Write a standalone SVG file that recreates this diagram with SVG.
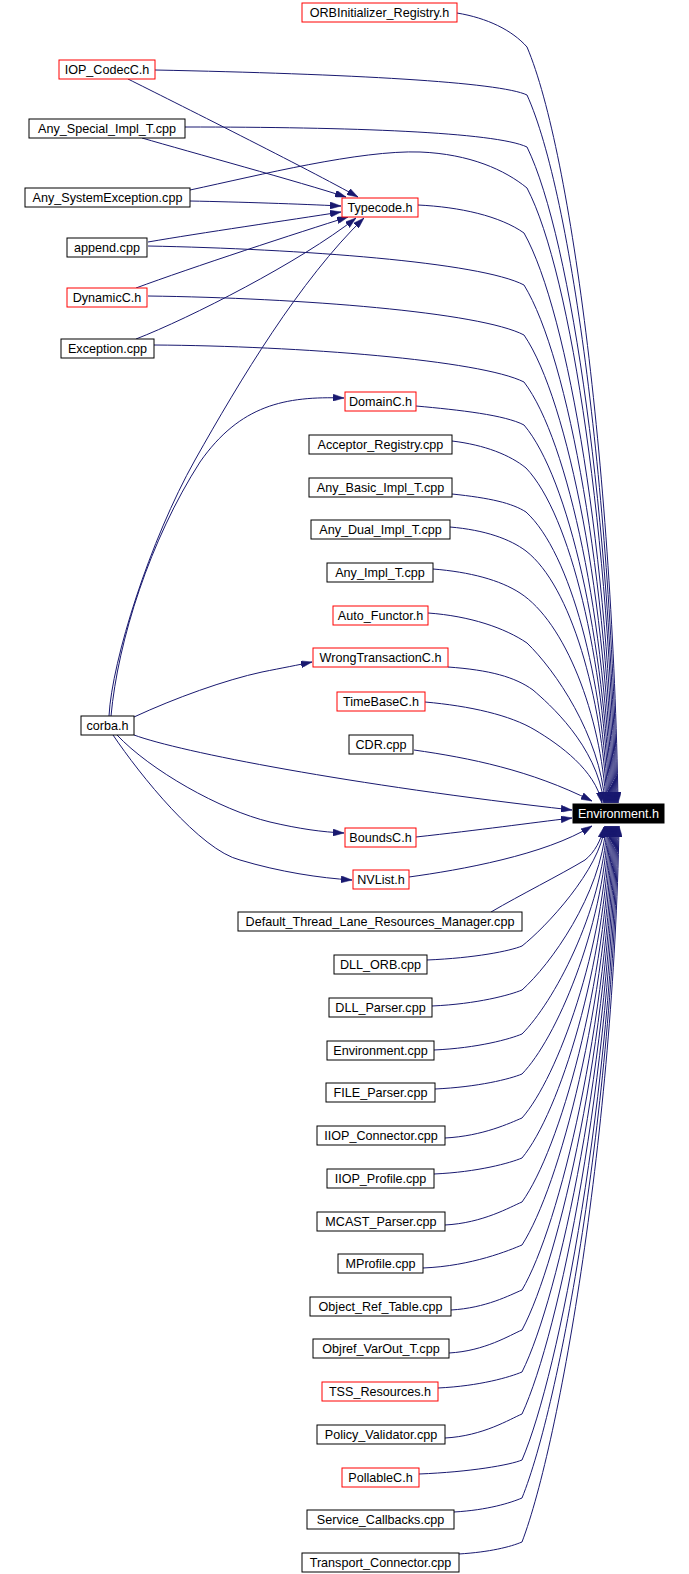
<svg xmlns="http://www.w3.org/2000/svg" width="689" height="1574" viewBox="0 0 689 1574">
<style>
.n rect{fill:#fff;stroke:#000;stroke-width:1}
.n.r rect{stroke:#f00}
.n.k rect{fill:#000;stroke:#000}
.n text{font-family:"Liberation Sans",Arial,sans-serif;font-size:12.6px;text-anchor:middle;fill:#000}
.n.k text{fill:#fff}
.e path{fill:none;stroke:#191970;stroke-width:1;marker-end:url(#ah)}
</style>
<defs>
<marker id="ah" markerWidth="11" markerHeight="7" refX="11" refY="3.5" orient="auto" markerUnits="userSpaceOnUse">
<path d="M0,0 L11,3.5 L0,7 z" fill="#191970" stroke="#191970" stroke-width="0.5"/>
</marker>
</defs>
<rect width="689" height="1574" fill="#fff"/>
<g id="edges" class="e">
<path d="M128,79 C170,100 310,170 358,197"/>
<path d="M142,138 C190,152 300,182 346,197"/>
<path d="M190,201 C240,202 300,204 341,206"/>
<path d="M148,242 C200,233 290,220 341,212"/>
<path d="M136,288 C190,268 300,232 348,217"/>
<path d="M136,339 C190,318 300,262 356,218"/>
<path d="M109,716 C112,660 150,540 195,460 C240,380 300,280 364,218"/>
<path d="M111,716 C118,640 150,540 200,462 C240,405 285,396 344,398"/>
<path d="M134,717 C175,698 225,680 262,672 C282,668 298,665 312,662"/>
<path d="M134,735 C180,752 350,785 572,810"/>
<path d="M117,735 C150,770 220,810 270,822 C300,829 322,832 344,833"/>
<path d="M113,735 C140,775 200,850 240,860 C280,872 320,878 352,880"/>
<path d="M416,837 C480,830 530,823 572,818"/>
<path d="M457,13 C487,18 512,30 527,47 C572,153 613,485 618,803"/>
<path d="M155,70 C350,74 500,82 527,95 C572,194 612,506 617,803"/>
<path d="M185,127 C350,127 495,132 527,147 C572,239 611,527 616,803"/>
<path d="M190,190 C260,175 360,150 420,152 C470,154 505,170 527,188 C572,274 610,545 615,803"/>
<path d="M418,205 C460,207 500,216 524,233 C569,313 609,564 614,803"/>
<path d="M148,246 C300,249 480,262 524,285 C569,358 608,585 613,803"/>
<path d="M148,296 C300,298 480,312 524,335 C569,401 607,606 612,803"/>
<path d="M154,345 C300,346 480,360 524,382 C569,441 606,626 611,803"/>
<path d="M416,406 C460,410 505,415 524,425 C569,478 605,644 610,803"/>
<path d="M452,441 C485,445 510,455 526,468 C571,515 604,662 609,803"/>
<path d="M452,494 C490,498 512,503 526,512 C571,553 603,681 608,803"/>
<path d="M450,527 C485,530 510,539 526,551 C571,586 602,697 607,803"/>
<path d="M433,569 C470,572 500,580 520,593 C565,622 601,715 606,803"/>
<path d="M428,613 C470,616 505,628 527,643 C555,670 600,735 605,803"/>
<path d="M448,667 C490,670 515,677 533,690 C548,703 597,745 604,803"/>
<path d="M425,702 C470,706 510,715 535,730 C560,745 595,770 602,803"/>
<path d="M414,750 C470,758 530,770 592,801"/>
<path d="M409,877 C460,870 545,855 592,826"/>
<path d="M491,912 C520,895 560,875 585,860 C595,852 601,840 604,827"/>
<path d="M427,960 C475,958 510,951 522,946 C545,928 600,870 605,826"/>
<path d="M432,1006 C477,1004 510,995 522,990 C550,965 601,895 606,826"/>
<path d="M434,1050 C478,1048 510,1039 522,1034 C553,1003 602,913 607,826"/>
<path d="M435,1089 C478,1087 510,1079 522,1074 C556,1039 603,930 608,826"/>
<path d="M445,1138 C483,1136 510,1123 522,1118 C558,1077 604,949 609,826"/>
<path d="M434,1174 C478,1172 510,1163 522,1158 C560,1112 605,965 610,826"/>
<path d="M445,1225 C483,1223 510,1207 522,1202 C560,1149 606,984 611,826"/>
<path d="M423,1268 C472,1266 510,1250 522,1245 C560,1186 607,1002 612,826"/>
<path d="M451,1310 C486,1308 510,1295 522,1290 C560,1225 608,1021 613,826"/>
<path d="M449,1353 C485,1351 510,1335 522,1330 C560,1259 609,1038 614,826"/>
<path d="M438,1388 C480,1386 510,1377 522,1372 C560,1296 610,1055 615,826"/>
<path d="M445,1438 C483,1436 510,1419 522,1414 C560,1332 611,1073 616,826"/>
<path d="M419,1474 C470,1472 510,1465 522,1460 C560,1371 612,1092 617,826"/>
<path d="M454,1512 C488,1510 510,1503 522,1498 C560,1404 613,1108 618,826"/>
<path d="M459,1554 C490,1552 510,1547 522,1542 C560,1442 614,1127 619,826"/>
</g>
<g id="n_orb" class="n r"><rect x="302" y="3" width="155" height="19"/><text x="379.5" y="17">ORBInitializer_Registry.h</text></g>
<g id="n_iop" class="n r"><rect x="59" y="60" width="96" height="19"/><text x="107" y="74">IOP_CodecC.h</text></g>
<g id="n_anyspecial" class="n"><rect x="29" y="119" width="156" height="19"/><text x="107" y="133">Any_Special_Impl_T.cpp</text></g>
<g id="n_anysysexc" class="n"><rect x="25" y="188" width="165" height="19"/><text x="107.5" y="202">Any_SystemException.cpp</text></g>
<g id="n_typecode" class="n r"><rect x="342" y="198" width="76" height="19"/><text x="380" y="212">Typecode.h</text></g>
<g id="n_append" class="n"><rect x="67" y="238" width="80" height="19"/><text x="107" y="252">append.cpp</text></g>
<g id="n_dynamicc" class="n r"><rect x="67" y="288" width="80" height="19"/><text x="107" y="302">DynamicC.h</text></g>
<g id="n_exception" class="n"><rect x="61" y="339" width="93" height="19"/><text x="107.5" y="353">Exception.cpp</text></g>
<g id="n_domainc" class="n r"><rect x="345" y="392" width="71" height="19"/><text x="380.5" y="406">DomainC.h</text></g>
<g id="n_acceptor" class="n"><rect x="309" y="435" width="143" height="19"/><text x="380.5" y="449">Acceptor_Registry.cpp</text></g>
<g id="n_anybasic" class="n"><rect x="309" y="478" width="143" height="19"/><text x="380.5" y="492">Any_Basic_Impl_T.cpp</text></g>
<g id="n_anydual" class="n"><rect x="311" y="520" width="139" height="19"/><text x="380.5" y="534">Any_Dual_Impl_T.cpp</text></g>
<g id="n_anyimpl" class="n"><rect x="327" y="563" width="106" height="19"/><text x="380" y="577">Any_Impl_T.cpp</text></g>
<g id="n_autofunctor" class="n r"><rect x="333" y="606" width="95" height="19"/><text x="380.5" y="620">Auto_Functor.h</text></g>
<g id="n_wrongtrans" class="n r"><rect x="313" y="648" width="135" height="19"/><text x="380.5" y="662">WrongTransactionC.h</text></g>
<g id="n_timebase" class="n r"><rect x="337" y="692" width="88" height="19"/><text x="381" y="706">TimeBaseC.h</text></g>
<g id="n_corba" class="n"><rect x="81" y="716" width="53" height="19"/><text x="107.5" y="730">corba.h</text></g>
<g id="n_cdr" class="n"><rect x="349" y="735" width="64" height="19"/><text x="381" y="749">CDR.cpp</text></g>
<g id="n_envh" class="n k"><rect x="573" y="804" width="91" height="19"/><text x="618.5" y="818">Environment.h</text></g>
<g id="n_boundsc" class="n r"><rect x="345" y="828" width="71" height="19"/><text x="380.5" y="842">BoundsC.h</text></g>
<g id="n_nvlist" class="n r"><rect x="353" y="870" width="56" height="19"/><text x="381" y="884">NVList.h</text></g>
<g id="n_default" class="n"><rect x="238" y="912" width="284" height="19"/><text x="380" y="926">Default_Thread_Lane_Resources_Manager.cpp</text></g>
<g id="n_dllorb" class="n"><rect x="334" y="955" width="93" height="19"/><text x="380.5" y="969">DLL_ORB.cpp</text></g>
<g id="n_dllparser" class="n"><rect x="329" y="998" width="103" height="19"/><text x="380.5" y="1012">DLL_Parser.cpp</text></g>
<g id="n_envcpp" class="n"><rect x="327" y="1041" width="107" height="19"/><text x="380.5" y="1055">Environment.cpp</text></g>
<g id="n_file" class="n"><rect x="326" y="1083" width="109" height="19"/><text x="380.5" y="1097">FILE_Parser.cpp</text></g>
<g id="n_iiopconn" class="n"><rect x="317" y="1126" width="128" height="19"/><text x="381" y="1140">IIOP_Connector.cpp</text></g>
<g id="n_iiopprof" class="n"><rect x="327" y="1169" width="107" height="19"/><text x="380.5" y="1183">IIOP_Profile.cpp</text></g>
<g id="n_mcast" class="n"><rect x="317" y="1212" width="128" height="19"/><text x="381" y="1226">MCAST_Parser.cpp</text></g>
<g id="n_mprofile" class="n"><rect x="338" y="1254" width="85" height="19"/><text x="380.5" y="1268">MProfile.cpp</text></g>
<g id="n_objreftable" class="n"><rect x="310" y="1297" width="141" height="19"/><text x="380.5" y="1311">Object_Ref_Table.cpp</text></g>
<g id="n_objrefvarout" class="n"><rect x="313" y="1339" width="136" height="19"/><text x="381" y="1353">Objref_VarOut_T.cpp</text></g>
<g id="n_tss" class="n r"><rect x="322" y="1382" width="116" height="19"/><text x="380" y="1396">TSS_Resources.h</text></g>
<g id="n_policy" class="n"><rect x="317" y="1425" width="128" height="19"/><text x="381" y="1439">Policy_Validator.cpp</text></g>
<g id="n_pollable" class="n r"><rect x="342" y="1468" width="77" height="19"/><text x="380.5" y="1482">PollableC.h</text></g>
<g id="n_servicecb" class="n"><rect x="307" y="1510" width="147" height="19"/><text x="380.5" y="1524">Service_Callbacks.cpp</text></g>
<g id="n_transport" class="n"><rect x="302" y="1553" width="157" height="19"/><text x="380.5" y="1567">Transport_Connector.cpp</text></g>
</svg>
